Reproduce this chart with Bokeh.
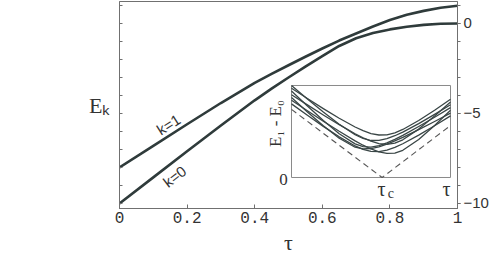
import numpy as np
from bokeh.plotting import figure
from bokeh.models import Range1d, LinearAxis, FixedTicker
from bokeh.core.properties import value
from bokeh.embed import file_html
from bokeh.resources import INLINE

# ---------------- data ----------------
tau = [0.0, 0.1, 0.2, 0.3, 0.4, 0.45, 0.5, 0.55, 0.6, 0.65, 0.7, 0.75, 0.8, 0.85, 0.9, 0.95, 1.0]
E_k1 = [-8.0, -6.8, -5.6, -4.42, -3.3, -2.8, -2.32, -1.85, -1.39, -0.95, -0.56, -0.17, 0.19, 0.48, 0.7, 0.87, 0.98]
E_k0 = [-10.0, -8.55, -7.1, -5.67, -4.27, -3.62, -3.0, -2.4, -1.82, -1.25, -0.82, -0.53, -0.33, -0.18, -0.08, -0.02, 0.0]

x_ticks = [0, 0.2, 0.4, 0.6, 0.8, 1]
x_tick_labels = ["0", "0.2", "0.4", "0.6", "0.8", "1"]
left_ticks = list(range(-10, 2))
right_ticks = [-10, -5, 0]
right_tick_labels = ["\u221210", "\u22125", "0"]

# inset (gap E1 - E0 vs tau, normalised units)
inset_x = [0.0, 0.1, 0.2, 0.3, 0.4, 0.45, 0.5, 0.55, 0.6, 0.65, 0.7, 0.8, 0.9, 1.0]
gap_1 = [1.00, 0.854, 0.712, 0.578, 0.465, 0.424, 0.402, 0.403, 0.422, 0.454, 0.493, 0.585, 0.686, 0.79]
gap_2 = [0.97, 0.859, 0.749, 0.644, 0.549, 0.509, 0.478, 0.462, 0.464, 0.486, 0.522, 0.619, 0.731, 0.85]
gap_3 = [0.94, 0.777, 0.620, 0.476, 0.365, 0.335, 0.331, 0.347, 0.376, 0.414, 0.458, 0.554, 0.655, 0.76]
gap_4 = [0.90, 0.789, 0.679, 0.574, 0.475, 0.432, 0.395, 0.369, 0.360, 0.374, 0.410, 0.526, 0.668, 0.82]
gap_5 = [0.87, 0.713, 0.562, 0.426, 0.329, 0.311, 0.315, 0.334, 0.362, 0.398, 0.436, 0.521, 0.609, 0.70]
gap_6 = [0.84, 0.725, 0.612, 0.502, 0.398, 0.351, 0.310, 0.278, 0.262, 0.265, 0.296, 0.413, 0.565, 0.73]
gap_7 = [0.80, 0.676, 0.556, 0.442, 0.343, 0.306, 0.284, 0.282, 0.298, 0.328, 0.367, 0.460, 0.563, 0.67]
gap_series = [gap_1, gap_2, gap_3, gap_4, gap_5, gap_6, gap_7]
bound_x = [0.0, 0.57, 1.0]
bound_y = [0.74, 0.0, 0.565]

# ---------------- figure ----------------
LINE = "#2f3b3b"
AX = "#707070"
TXT = "#333333"

p = figure(width=491, height=257, x_range=Range1d(0, 1), y_range=Range1d(-10.28, 1.22),
           output_backend="svg", toolbar_location=None,
           min_border_left=119, min_border_right=34, min_border_top=1, min_border_bottom=49)
p.grid.visible = False
p.outline_line_color = AX
p.outline_line_width = 1
p.background_fill_color = "white"
p.border_fill_color = "white"

# bottom axis
xa = p.xaxis[0]
xa.ticker = FixedTicker(ticks=x_ticks, minor_ticks=[])
xa.major_label_overrides = {t: l for t, l in zip(x_ticks, x_tick_labels)}
xa.axis_line_color = AX
xa.major_tick_line_color = AX
xa.major_tick_in = 4
xa.major_tick_out = 0
xa.major_label_standoff = 3
xa.major_label_text_font = "Liberation Mono"
xa.major_label_text_font_size = "16px"
xa.major_label_text_color = TXT
xa.axis_label = "\u03c4"
xa.axis_label_text_font = "Liberation Serif"
xa.axis_label_text_font_style = "normal"
xa.axis_label_text_font_size = "22px"
xa.axis_label_text_color = TXT
xa.axis_label_standoff = 4

# left axis (ticks only, horizontal axis title)
ya = p.yaxis[0]
ya.ticker = FixedTicker(ticks=left_ticks, minor_ticks=[])
ya.major_label_overrides = {t: "" for t in left_ticks}
ya.axis_line_color = AX
ya.major_tick_line_color = AX
ya.major_tick_in = 3
ya.major_tick_out = 0
ya.axis_label = "E\u2096"
ya.axis_label_orientation = "horizontal"
ya.axis_label_text_font = "Liberation Serif"
ya.axis_label_text_font_style = "normal"
ya.axis_label_text_font_size = "22px"
ya.axis_label_text_color = TXT
ya.axis_label_standoff = 9

# right axis
ra = LinearAxis(ticker=FixedTicker(ticks=right_ticks, minor_ticks=left_ticks))
ra.major_label_overrides = {t: l for t, l in zip(right_ticks, right_tick_labels)}
ra.axis_line_color = AX
ra.major_tick_line_color = AX
ra.minor_tick_line_color = AX
ra.major_tick_in = 0
ra.major_tick_out = 3
ra.minor_tick_in = 0
ra.minor_tick_out = 3
ra.major_label_standoff = 3
ra.major_label_text_font = "Liberation Sans"
ra.major_label_text_font_size = "15px"
ra.major_label_text_color = TXT
p.add_layout(ra, "right")

# main curves
p.line(tau, E_k1, line_color=LINE, line_width=2.6, line_join="round")
p.line(tau, E_k0, line_color=LINE, line_width=2.6, line_join="round")

sans = value("Liberation Sans")
p.text(x=[0.145], y=[-5.61], text=["k=1"], angle=0.567, text_align="center",
       text_baseline="middle", text_font=sans, text_font_size="15px", text_color=TXT)
p.text(x=[0.163], y=[-8.5], text=["k=0"], angle=0.658, text_align="center",
       text_baseline="middle", text_font=sans, text_font_size="15px", text_color=TXT)

# ---------------- inset ----------------
p.extra_x_ranges = {"ix": Range1d(-1.0818, 1.0440)}
p.extra_y_ranges = {"iy": Range1d(-0.337, 1.913)}

p.quad(left=[0], right=[1], bottom=[0], top=[1], x_range_name="ix", y_range_name="iy",
       fill_color="white", line_color="#8a8a8a", line_width=1)

for g in gap_series:
    p.line(inset_x, g, x_range_name="ix", y_range_name="iy",
           line_color="#3a4646", line_width=1.3, line_join="round")
p.line(bound_x, bound_y, x_range_name="ix", y_range_name="iy",
       line_color="#555555", line_width=1.1, line_dash="6 4")

serif = value("Liberation Serif")
p.text(x=[-0.05], y=[-0.02], text=["0"], x_range_name="ix", y_range_name="iy",
       text_align="center", text_baseline="middle", text_font=serif,
       text_font_size="17px", text_color=TXT)
p.text(x=[0.566, 0.975], y=[-0.12, -0.12], text=["\u03c4", "\u03c4"], x_range_name="ix", y_range_name="iy",
       text_align="center", text_baseline="middle", text_font=serif,
       text_font_size="20px", text_color=TXT)
p.text(x=[0.625], y=[-0.17], text=["c"], x_range_name="ix", y_range_name="iy",
       text_align="center", text_baseline="middle", text_font=serif,
       text_font_size="14px", text_color=TXT)
p.text(x=[-0.10], y=[0.587], text=["E\u2081 - E\u2080"], angle=np.pi / 2, x_range_name="ix", y_range_name="iy",
       text_align="center", text_baseline="middle", text_font=serif,
       text_font_size="17px", text_color=TXT)

open("out.html", "w").write(file_html(p, INLINE))
